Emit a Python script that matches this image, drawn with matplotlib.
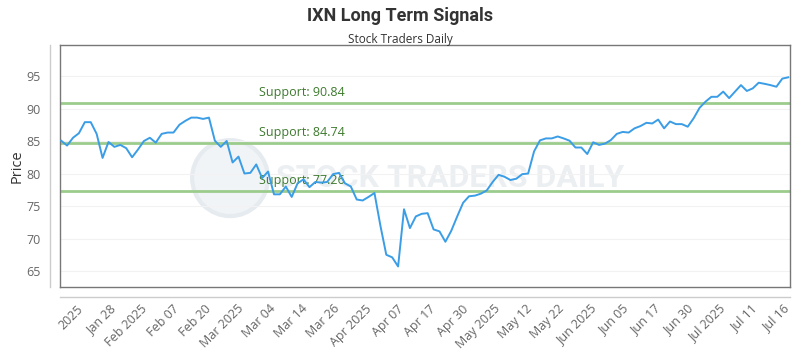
import numpy as np
import matplotlib
matplotlib.use('Agg')
import matplotlib.pyplot as plt
from matplotlib.patches import Ellipse

# closing prices, one per trading day
price = [85.05, 84.3, 85.5, 86.2, 87.9, 87.9, 86.1, 82.4, 84.85, 84.1,
         84.4, 83.9, 82.5, 83.7, 85.0, 85.5, 84.75, 86.1, 86.3, 86.3,
         87.5, 88.1, 88.6, 88.6, 88.4, 88.6, 85.05, 84.1, 85.0, 81.7,
         82.6, 80.0, 80.1, 81.4, 79.3, 80.3, 76.8, 76.8, 78.0, 76.4,
         78.5, 79.1, 77.9, 78.7, 78.6, 78.7, 79.9, 80.1, 78.5, 78.0,
         76.0, 75.85, 76.4, 77.0, 72.0, 67.5, 67.1, 65.7, 74.5, 71.6,
         73.4, 73.8, 73.9, 71.4, 71.1, 69.5, 71.2, 73.4, 75.5, 76.5,
         76.6, 76.9, 77.4, 78.7, 79.8, 79.5, 79.0, 79.2, 79.9, 80.0,
         83.4, 85.1, 85.4, 85.4, 85.7, 85.4, 85.05, 84.0, 84.0, 83.0,
         84.8, 84.4, 84.6, 85.15, 86.1, 86.4, 86.3, 86.95, 87.3, 87.8,
         87.7, 88.3, 86.95, 88.0, 87.6, 87.6, 87.2, 88.5, 90.1, 91.05,
         91.8, 91.8, 92.6, 91.6, 92.6, 93.6, 92.7, 93.1, 93.97, 93.8,
         93.6, 93.35, 94.6, 94.8]

supports = [90.84, 84.74, 77.26]

tick_labels = ['2025', 'Jan 28', 'Feb 2025', 'Feb 07', 'Feb 20', 'Mar 2025',
               'Mar 04', 'Mar 14', 'Mar 26', 'Apr 2025', 'Apr 07', 'Apr 17',
               'Apr 30', 'May 2025', 'May 12', 'May 22', 'Jun 2025', 'Jun 05',
               'Jun 17', 'Jun 30', 'Jul 2025', 'Jul 11', 'Jul 16']

yticks = [65, 70, 75, 80, 85, 90, 95]

plt.rcParams['font.family'] = ['Open Sans', 'DejaVu Sans']

fig = plt.figure(figsize=(8, 3.5), dpi=100)
ax = fig.add_axes([0.075, 0.18, 0.9125, 0.6914])

x = np.arange(len(price))

# watermark (logo circle + text)
ax.add_patch(Ellipse((0.233, 0.45), 0.104, 0.314, transform=ax.transAxes,
                     facecolor='#f1f4f7', edgecolor='#e6ebf0', lw=3,
                     zorder=0))
ax.text(0.535, 0.45, 'STOCK TRADERS DAILY', transform=ax.transAxes,
        ha='center', va='center', fontsize=23, color='#eceff2',
        fontweight='bold', family='Roboto', zorder=0)

for v in yticks:
    ax.axhline(v, color='#f2f2f2', lw=0.8, zorder=1)

for s in supports:
    ax.axhline(s, color='#9ccc8c', lw=2, zorder=2)
    ax.text(33.5, s + 0.6, 'Support: %.2f' % s, color='#3d7a2d',
            fontsize=9, va='bottom', ha='left', zorder=3)

ax.plot(x, price, color='#3a9de6', lw=1.4, zorder=4)

ax.set_xlim(-0.2, 123.3)
ax.set_ylim(62.54, 99.77)
ax.set_yticks(yticks)
ax.set_xticks(np.linspace(2.6, 122.0, len(tick_labels)))
ax.set_xticklabels(tick_labels, rotation=45, ha='right',
                   rotation_mode='anchor')
ax.tick_params(axis='both', length=0, labelsize=9, colors='#666666')
ax.tick_params(axis='x', pad=11)
ax.tick_params(axis='y', pad=14)

for sp in ax.spines.values():
    sp.set_color('#777777')
    sp.set_linewidth(1)

# offset axis lines outside the frame
w = ax.get_position().width * 800
h = ax.get_position().height * 350
ax.plot([-10 / w, -10 / w], [0, 1], transform=ax.transAxes, color='#cccccc',
        lw=1, clip_on=False)
ax.plot([0, 1], [-10 / h, -10 / h], transform=ax.transAxes, color='#cccccc',
        lw=1, clip_on=False)

ax.set_ylabel('Price', fontsize=10.5, color='#333333')
ax.yaxis.set_label_coords(-0.048, 0.5)

fig.text(0.5, 0.955, 'IXN Long Term Signals', ha='center', va='center',
         fontsize=13, fontweight='bold', color='#333333', family='Roboto')
fig.text(0.5, 0.887, 'Stock Traders Daily', ha='center', va='center',
         fontsize=8.5, color='#333333')

fig.savefig('out.png', dpi=100)
